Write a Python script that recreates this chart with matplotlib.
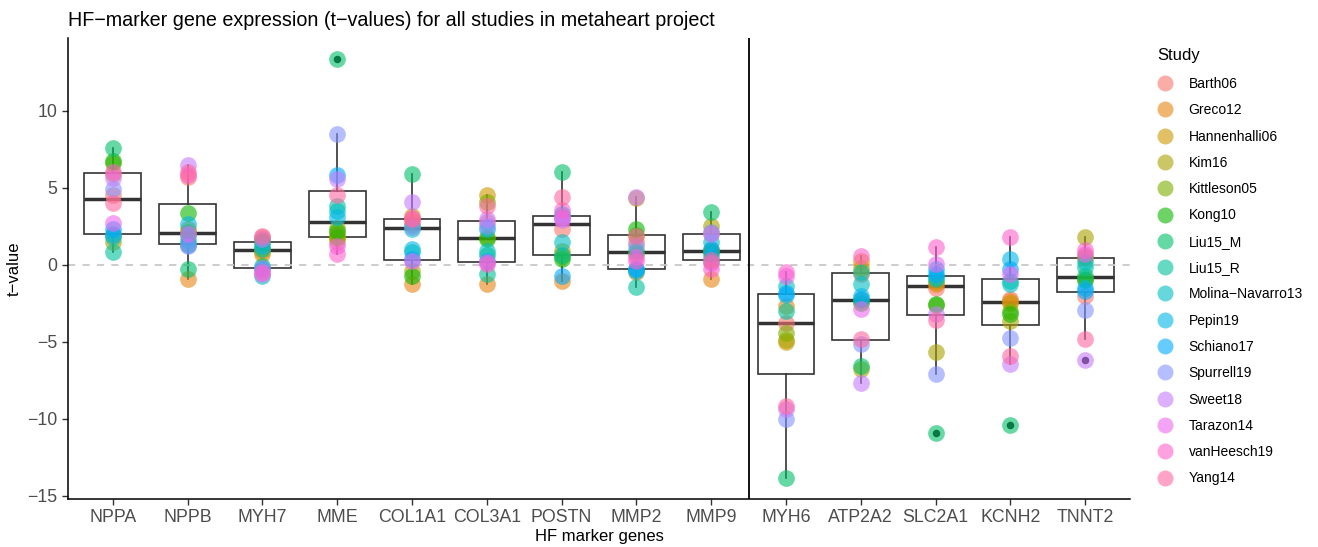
import numpy as np
import matplotlib
matplotlib.use("Agg")
import matplotlib.pyplot as plt
from matplotlib.lines import Line2D

plt.rcParams['font.family'] = ['Liberation Sans', 'DejaVu Sans']

studies = ["Barth06", "Greco12", "Hannenhalli06", "Kim16", "Kittleson05", "Kong10",
           "Liu15_M", "Liu15_R", "Molina\u2212Navarro13", "Pepin19", "Schiano17",
           "Spurrell19", "Sweet18", "Tarazon14", "vanHeesch19", "Yang14"]

genes = ["NPPA", "NPPB", "MYH7", "MME", "COL1A1", "COL3A1", "POSTN", "MMP2", "MMP9",
         "MYH6", "ATP2A2", "SLC2A1", "KCNH2", "TNNT2"]

# t-values, one list per gene, in the order of `studies`
NPPA   = [4.5, 1.9, 5.9, 1.5, 6.6, 6.7, 7.6, 0.8, 1.8, 2.0, 2.3, 4.9, 5.6, 2.7, 6.0, 4.0]
NPPB   = [5.7, -0.93, 2.3, 1.32, 2.1, 3.34, -0.28, 1.6, 1.9, 2.65, 1.28, 1.2, 6.45, 2.0, 5.8, 6.0]
MYH7   = [1.8, 0.7, 0.9, 1.1, 1.6, 1.45, -0.1, 1.02, -0.72, 1.24, -0.25, -0.2, 1.67, -0.6, -0.5, 1.89]
MME    = [1.45, 2.0, 1.7, 2.4, 1.8, 2.21, 13.36, 3.84, 3.5, 3.08, 5.8, 8.47, 5.58, 1.24, 0.70, 4.5]
COL1A1 = [2.76, -1.26, 3.19, -0.39, 2.6, -0.72, 5.9, 0.8, 2.3, 1.02, 0.35, 2.43, 4.06, 0.26, 3.05, 2.95]
COL3A1 = [2.75, -1.26, 4.5, 1.8, 4.06, 1.65, 0.6, -0.61, 0.91, 2.32, 0.22, 2.5, 2.97, 0.15, 0.04, 3.84]
POSTN  = [2.3, -1.04, 3.1, 0.91, 0.55, 0.37, 6.02, 0.65, 1.45, 3.3, -0.72, 3.15, 2.92, 3.0, 3.52, 4.39]
MMP2   = [1.5, -0.5, 4.3, 0.7, 1.95, 2.32, 0.9, -1.48, -0.4, -0.3, -0.25, 1.24, 4.39, 0.48, 0.26, 1.89]
MMP9   = [0.94, -0.93, 2.05, 2.54, 0.88, 0.8, 3.41, 0.25, 1.45, 0.59, 1.02, 2.1, 1.98, 0.1, -0.28, 0.32]
MYH6   = [-3.82, -2.67, -5.05, -4.9, -4.41, np.nan, -13.86, -3.0, -1.37, -2.0, -1.82, -10.05, -9.4, -0.72, -0.5, -9.19]
ATP2A2 = [-0.6, 0.26, -0.2, -6.8, -2.3, -2.5, -6.58, -0.45, -1.26, -2.02, -2.26, -5.17, -7.67, -2.89, 0.59, -4.8]
SLC2A1 = [-1.5, -1.25, -1.15, -5.65, -2.6, -2.56, -10.92, -0.93, -0.8, -0.28, -0.6, -7.12, -3.2, 0.04, 1.13, -3.6]
KCNH2  = [-2.24, -2.35, -2.5, -3.65, -3.0, -3.21, -10.44, -1.04, -1.26, 0.37, -0.28, -4.78, -6.47, -0.6, 1.82, -5.93]
TNNT2  = [-2.02, 0.4, -0.9, 1.78, 0.55, -1.0, -0.76, -0.17, 0.15, -1.5, -1.73, -2.95, -6.21, 0.7, 0.96, -4.84]

values = [NPPA, NPPB, MYH7, MME, COL1A1, COL3A1, POSTN, MMP2, MMP9,
          MYH6, ATP2A2, SLC2A1, KCNH2, TNNT2]
n_up = 9  # number of up-regulated marker genes (split line after them)


def hue_pal(n, h0=15, h1=375, c=100.0, l=65.0):
    hues = np.linspace(h0, h1, n + 1)[:-1]
    Xn, Yn, Zn = 95.047, 100.0, 108.883
    un = 4 * Xn / (Xn + 15 * Yn + 3 * Zn)
    vn = 9 * Yn / (Xn + 15 * Yn + 3 * Zn)
    Y = Yn * ((l + 16) / 116) ** 3
    cols = []
    M = np.array([[3.2404542, -1.5371385, -0.4985314],
                  [-0.9692660, 1.8760108, 0.0415560],
                  [0.0556434, -0.2040259, 1.0572252]])
    for h in hues:
        u = c * np.cos(np.radians(h))
        v = c * np.sin(np.radians(h))
        up = u / (13 * l) + un
        vp = v / (13 * l) + vn
        X = Y * 9 * up / (4 * vp)
        Z = Y * (12 - 3 * up - 20 * vp) / (4 * vp)
        rgb = M @ (np.array([X, Y, Z]) / 100.0)
        rgb = np.where(rgb <= 0.0031308, 12.92 * rgb, 1.055 * np.clip(rgb, 0, None) ** (1 / 2.4) - 0.055)
        cols.append(tuple(np.clip(rgb, 0, 1)))
    return cols


colors = hue_pal(len(studies))

fig = plt.figure(figsize=(13.18, 5.47), dpi=100)
ax = fig.add_axes([68 / 1318, 1 - 499 / 547, (1130 - 68) / 1318, (499 - 38) / 547])

positions = np.arange(1, len(genes) + 1)
data_clean = [np.array(v, dtype=float)[~np.isnan(np.array(v, dtype=float))] for v in values]

ax.boxplot(data_clean, positions=positions, widths=0.76, whis=1.5, showcaps=False,
           patch_artist=True, manage_ticks=False,
           boxprops=dict(facecolor='white', edgecolor='#333333', linewidth=1.2),
           whiskerprops=dict(color='#333333', linewidth=1.2),
           medianprops=dict(color='#333333', linewidth=2.5),
           flierprops=dict(marker='o', markerfacecolor='black', markeredgecolor='black',
                           markersize=4.4, alpha=0.9),
           zorder=2)

ax.axhline(0, color='#c8c8c8', linestyle=(0, (4, 4)), linewidth=1.3, zorder=2.5)
ax.axvline(n_up + 0.5, color='black', linewidth=1.3, zorder=2.6)

for si, (s, col) in enumerate(zip(studies, colors)):
    xs, ys = [], []
    for gi, v in enumerate(values):
        if not np.isnan(v[si]):
            xs.append(positions[gi])
            ys.append(v[si])
    ax.scatter(xs, ys, s=145, color=col, alpha=0.6, linewidths=0, zorder=3)

allv = np.concatenate(data_clean)
lo, hi = allv.min(), allv.max()
pad = 0.05 * (hi - lo)
ax.set_ylim(lo - pad, hi + pad)
ax.set_xlim(0.4, len(genes) + 0.6)

ax.set_xticks(positions)
ax.set_xticklabels(genes)
ax.set_yticks([-15, -10, -5, 0, 5, 10])
ax.set_yticklabels(['\u221215', '\u221210', '\u22125', '0', '5', '10'])
ax.tick_params(axis='both', colors='#333333', labelcolor='#4D4D4D', labelsize=12.8,
               length=4, width=1.0, direction='out')
for sp in ['top', 'right']:
    ax.spines[sp].set_visible(False)
for sp in ['left', 'bottom']:
    ax.spines[sp].set_linewidth(1.1)
    ax.spines[sp].set_color('black')

ax.set_xlabel('HF marker genes', fontsize=12, labelpad=2)
ax.set_ylabel('t\u2212value', fontsize=12, labelpad=4)
ax.set_title('HF\u2212marker gene expression (t\u2212values) for all studies in metaheart project',
             loc='left', fontsize=14.2, pad=9)

handles = [Line2D([0], [0], marker='o', linestyle='none', markersize=11.5,
                  markerfacecolor=c, markeredgewidth=0, alpha=0.6) for c in colors]
fig.text(1157 / 1318, 1 - 55 / 547, 'Study', fontsize=12, va='center', ha='left')
leg = fig.legend(handles, studies, loc='upper left',
                 bbox_to_anchor=(1154 / 1318, 1 - 77 / 547), frameon=False,
                 fontsize=10, labelspacing=0.885, borderpad=0,
                 handletextpad=0.9, handlelength=1.6, borderaxespad=0)

fig.savefig('out.png', dpi=100)
